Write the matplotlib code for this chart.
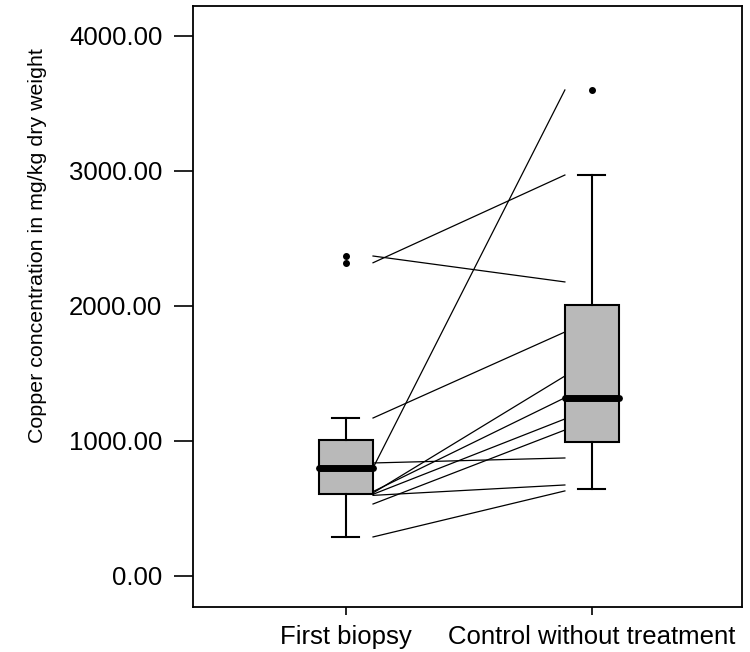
"""
Copper concentration in liver biopsies: first biopsy vs. control without
treatment, paired values joined by lines over the two box plots.
"""

import matplotlib

matplotlib.use("Agg")
import matplotlib.pyplot as plt


# category labels on the x axis
GROUPS = ["First biopsy", "Control without treatment"]

# paired values (mg/kg dry weight), one entry per animal
first_biopsy = [2370, 2320, 1170, 800, 837, 289, 615, 625, 605, 533, 597]
control = [2178, 2970, 1807, 3600, 874, 630, 1481, 1320, 1163, 1081, 674]

# box summary per group (SPSS style hinges), same order as GROUPS
q1 = [607, 993]
median = [800, 1320]
q3 = [1007, 2007]
whisker_low = [289, 644]
whisker_high = [1170, 2970]
outliers = [[2370, 2320], [3600]]

Y_TICKS = [0, 1000, 2000, 3000, 4000]


plt.rcParams["font.family"] = ["Liberation Sans", "DejaVu Sans"]

fig = plt.figure(figsize=(7.5, 6.52), dpi=100)
ax = fig.add_axes([0.2573, 0.069, 0.732, 0.9218])

positions = [1, 2]
box_w = 0.22

# paired lines, from the right edge of box 1 to the left edge of box 2
x0 = positions[0] + box_w / 2
x1 = positions[1] - box_w / 2
for a, b in zip(first_biopsy, control):
    ax.plot([x0, x1], [a, b], color="black", lw=0.9, zorder=2)

stats = []
for i, name in enumerate(GROUPS):
    stats.append({
        "label": name,
        "q1": q1[i],
        "med": median[i],
        "q3": q3[i],
        "whislo": whisker_low[i],
        "whishi": whisker_high[i],
        "fliers": outliers[i],
    })

ax.bxp(
    stats,
    positions=positions,
    widths=box_w,
    capwidths=[0.11, 0.11],
    patch_artist=True,
    showfliers=True,
    boxprops=dict(facecolor="#b9b9b9", edgecolor="black", linewidth=1.5),
    medianprops=dict(color="black", linewidth=5, solid_capstyle="round"),
    whiskerprops=dict(color="black", linewidth=1.5),
    capprops=dict(color="black", linewidth=1.5),
    flierprops=dict(marker="o", markersize=4, markerfacecolor="black",
                    markeredgecolor="black"),
    zorder=3,
)

ax.set_xlim(0.378, 2.61)
ax.set_ylim(-230, 4222)

ax.set_xticks(positions)
ax.set_xticklabels(GROUPS, fontsize=18.5)
ax.set_yticks(Y_TICKS)
ax.set_yticklabels([f"{v:.2f}" for v in Y_TICKS], fontsize=18.5)
ax.tick_params(axis="y", length=14, width=1.2, pad=8)
ax.tick_params(axis="x", length=6, width=1.2, pad=7)

# the y title sits a bit above the middle of the axis
ax.set_ylabel("Copper concentration in mg/kg dry weight", fontsize=15.4)
ax.yaxis.set_label_coords(-0.266, 0.602)

for side in ax.spines.values():
    side.set_linewidth(1.3)
    side.set_color("black")

fig.savefig("out.png", dpi=100)
